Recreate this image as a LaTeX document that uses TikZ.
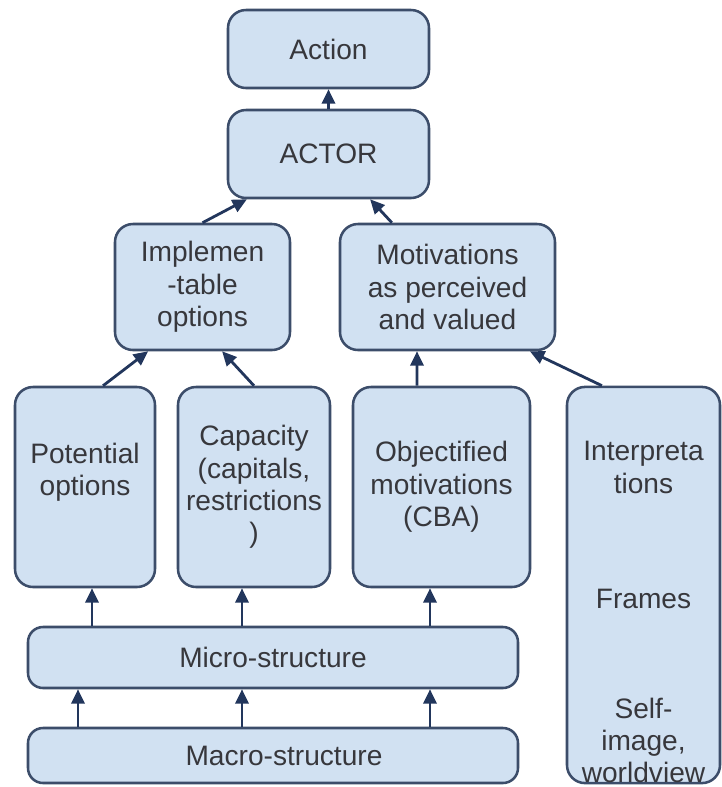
\documentclass[tikz,border=0pt]{standalone}
\usepackage{fontspec}
\setmainfont{Liberation Sans}
\usepackage{xcolor}
\usepackage{tikz}
\usetikzlibrary{arrows.meta,positioning,calc}

\definecolor{boxfill}{RGB}{209,225,242}
\definecolor{boxline}{RGB}{60,77,106}
\definecolor{arrowblue}{RGB}{34,54,92}
\definecolor{textgray}{RGB}{55,55,60}

\begin{document}
\begin{tikzpicture}[
    box/.style={draw=boxline, fill=boxfill, line width=1.8pt, rounded corners=0.45cm, align=center,
        inner sep=0pt, text=textgray, font=\fontsize{20}{23}\selectfont},
    arr/.style={draw=arrowblue, line width=2pt, -{Triangle[length=0.36cm,width=0.33cm]}}
]
    \useasboundingbox (0,0) rectangle (18.05,-19.675);

    % Top: action and actor
    \node[box, minimum width=5.025cm, minimum height=1.95cm] (act) at (8.2125, -1.225) {Action};
    \node[box, minimum width=5.025cm, minimum height=2.2cm] (actor) at (8.2125, -3.85) {ACTOR};

    % Second row
    \node[box, minimum width=4.375cm, minimum height=3.15cm] (impl) at (5.0625, -7.175) {Implemen\\-table\\options};
    \node[box, minimum width=5.375cm, minimum height=3.15cm] (motiv) at (11.1875, -7.175) {Motivations\\as perceived\\and valued};

    % Third row
    \node[box, minimum width=3.5cm, minimum height=5cm] (pot) at (2.125, -12.175) {Potential\\options\rule[-0.9cm]{0pt}{0.9cm}};
    \node[box, minimum width=3.8cm, minimum height=5cm] (cap) at (6.35, -12.175) {Capacity\\(capitals,\\restrictions\\)};
    \node[box, minimum width=4.425cm, minimum height=5cm] (obj) at (11.0375, -12.175) {Objectified\\motivations\\(CBA)};
    \node[box, minimum width=3.825cm, minimum height=9.9cm] (interp) at (16.0875, -14.625)
        {\rule{0pt}{1.85cm}Interpreta\\tions\\[2.065cm]Frames\\[1.94cm]Self-\\image,\\worldview};

    % Structures
    \node[box, minimum width=12.25cm, minimum height=1.525cm, rounded corners=0.375cm] (micro) at (6.825, -16.4375) {Micro-structure};
    \node[box, minimum width=12.25cm, minimum height=1.375cm, rounded corners=0.375cm] (macro) at (6.825, -18.8875) {\hspace{0.55cm}Macro-structure};

    % Arrows
    \draw[arr] (actor.north) -- (act.south);
    \draw[arr] (impl.north) -- ([xshift=-2.04cm]actor.south);
    \draw[arr] ([xshift=-1.39cm]motiv.north) -- ([xshift=1.04cm]actor.south);
    \draw[arr] ([xshift=0.45cm]pot.north) -- ([xshift=-1.36cm]impl.south);
    \draw[arr] (cap.north) -- ([xshift=0.49cm]impl.south);
    \draw[arr] ([xshift=-0.6125cm]obj.north) -- ([xshift=-0.7625cm]motiv.south);
    \draw[arr] ([xshift=-1.04cm]interp.north) -- ([xshift=2.06cm]motiv.south);
    \foreach \n/\dx in {pot/0.175, cap/-0.3, obj/-0.2875} {
        \draw[arr] ([xshift=\dx cm]\n.south |- micro.north) -- ([xshift=\dx cm]\n.south);
    }
    \foreach \dx in {-4.875, -0.775, 3.925} {
        \draw[arr] ([xshift=\dx cm]macro.north) -- ([xshift=\dx cm]micro.south);
    }
\end{tikzpicture}
\end{document}
